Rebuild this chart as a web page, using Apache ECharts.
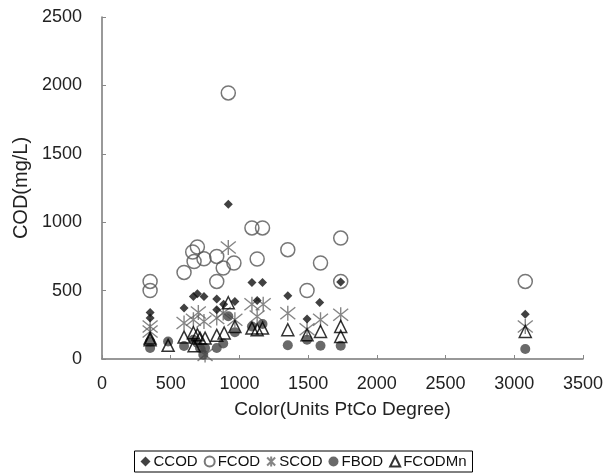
<!DOCTYPE html>
<html>
<head>
<meta charset="utf-8">
<script src="https://cdn.jsdelivr.net/npm/echarts@6/dist/echarts.min.js"></script>
<style>
  html, body { margin: 0; padding: 0; background: #fff; }
  #chart { width: 607px; height: 473px; }
</style>
</head>
<body>
<div id="chart"></div>
<script>
// values: [color, COD]
const ccod = [
  [350, 340], [350, 299], [597, 372], [665, 457], [694, 477], [742, 457],
  [835, 438], [835, 360], [885, 400], [967, 420], [919, 1131], [1091, 559],
  [1168, 559], [1129, 428], [1352, 462], [1492, 292], [1584, 413], [1737, 562],
  [3080, 328]
]
const fcod = [
  [350, 567], [350, 501], [597, 633], [660, 782], [694, 819], [670, 713],
  [742, 733], [835, 750], [882, 665], [960, 702], [835, 567], [919, 1945],
  [1091, 958], [1168, 958], [1129, 731], [1352, 799], [1492, 501], [1590, 702],
  [1737, 884], [1737, 567], [3080, 567]
]
const scod = [
  [350, 238], [350, 201], [597, 263], [665, 287], [701, 340], [742, 274],
  [750, 30], [835, 300], [882, 336], [919, 815], [967, 287], [1091, 400],
  [1173, 400], [1129, 311], [1352, 335], [1492, 218], [1590, 287], [1737, 323],
  [3080, 238]
]
const fbod = [
  [350, 80], [350, 128], [481, 128], [597, 95], [665, 141], [694, 117],
  [713, 80], [737, 31], [750, 80], [835, 80], [882, 113], [919, 313],
  [967, 195], [1091, 238], [1168, 256], [1352, 100], [1492, 141], [1590, 97],
  [1737, 97], [3080, 73]
]
const fcodmn = [
  [350, 153], [350, 141], [481, 100], [597, 160], [665, 192], [694, 177],
  [713, 153], [670, 97], [750, 153], [835, 173], [889, 190], [919, 411],
  [967, 238], [1091, 226], [1129, 214], [1168, 226], [1352, 214], [1492, 177],
  [1590, 201], [1737, 238], [1737, 165], [3080, 201]
]

const FONT = "'Liberation Sans', Arial, sans-serif"
const starPath = 'path://M0,-10L0,10M-8,-8L8,8M-8,8L8,-8'

const chart = echarts.init(document.getElementById('chart'))
chart.setOption({
  animation: false,
  textStyle: { fontFamily: FONT, color: '#222' },
  grid: { left: 102, right: 24, top: 17, bottom: 114 },
  xAxis: {
    type: 'value',
    min: 0,
    max: 3500,
    interval: 500,
    name: 'Color(Units PtCo Degree)',
    nameLocation: 'middle',
    nameGap: 41,
    nameTextStyle: { fontSize: 19, color: '#222', fontFamily: FONT },
    axisLine: { lineStyle: { color: '#777', width: 1.5 } },
    axisTick: { inside: true, length: 4, lineStyle: { color: '#888' } },
    axisLabel: { fontSize: 18, color: '#222', margin: 16, fontFamily: FONT, formatter: v => String(v) },
    splitLine: { show: false }
  },
  yAxis: {
    type: 'value',
    min: 0,
    max: 2500,
    interval: 500,
    name: 'COD(mg/L)',
    nameLocation: 'middle',
    nameGap: 67,
    nameTextStyle: { fontSize: 20, color: '#222', fontFamily: FONT },
    axisLine: { show: true, lineStyle: { color: '#777', width: 1.5 } },
    axisTick: { show: true, inside: true, length: 4, lineStyle: { color: '#888' } },
    axisLabel: { fontSize: 18, color: '#222', margin: 20, fontFamily: FONT, formatter: v => String(v) },
    splitLine: { show: false }
  },
  legend: {
    bottom: 1,
    left: 'center',
    itemWidth: 10,
    itemHeight: 10,
    itemGap: 6,
    padding: [3, 6, 3, 6],
    borderColor: '#000',
    borderWidth: 1,
    textStyle: { fontSize: 15, color: '#111', fontFamily: FONT, padding: [0, 0, 0, -2] },
    data: ['CCOD', 'FCOD', 'SCOD', 'FBOD', 'FCODMn']
  },
  series: [
    {
      name: 'FCOD',
      type: 'scatter',
      data: fcod,
      symbol: 'circle',
      symbolSize: 14,
      itemStyle: { color: 'rgba(255,255,255,0)', borderColor: '#555', borderWidth: 1.5 }
    },
    {
      name: 'SCOD',
      type: 'scatter',
      data: scod,
      symbol: starPath,
      symbolSize: 15,
      itemStyle: { color: 'rgba(255,255,255,0)', borderColor: '#666', borderWidth: 1.4 }
    },
    {
      name: 'FBOD',
      type: 'scatter',
      data: fbod,
      symbol: 'circle',
      symbolSize: 10,
      itemStyle: { color: '#444' }
    },
    {
      name: 'FCODMn',
      type: 'scatter',
      data: fcodmn,
      symbol: 'triangle',
      symbolSize: 12,
      itemStyle: { color: 'rgba(255,255,255,0)', borderColor: '#000', borderWidth: 1.5 }
    },
    {
      name: 'CCOD',
      type: 'scatter',
      data: ccod,
      symbol: 'diamond',
      symbolSize: 9,
      itemStyle: { color: '#111' }
    }
  ]
})
</script>
</body>
</html>
